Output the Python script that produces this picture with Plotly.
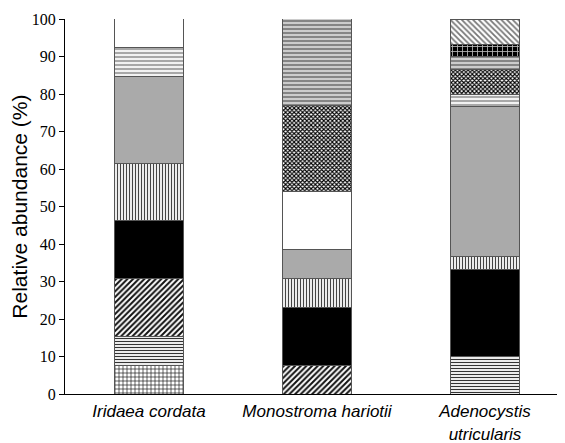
import plotly.graph_objects as go

species = ["Iridaea cordata", "Monostroma hariotii", "Adenocystis<br>utricularis"]

# segment heights (%) per group, bottom to top
grid_vals = [7.7, 0, 0]
hline_vals = [7.7, 0, 10.0]
diag_vals = [15.4, 7.7, 0]
black_vals = [15.4, 15.4, 23.3]
vline_vals = [15.4, 7.7, 3.3]
gray_vals = [23.1, 7.7, 40.0]
dotted_vals = [7.7, 0, 3.3]
white_vals = [7.7, 15.4, 0]
checker_vals = [0, 23.1, 6.7]
brick_vals = [0, 23.1, 3.3]
blackgrid_vals = [0, 0, 3.3]
scallop_vals = [0, 0, 6.7]

series = [
    (grid_vals, dict(shape="+", fgcolor="#111111", bgcolor="white", size=4, solidity=0.3)),
    (hline_vals, dict(shape="-", fgcolor="#333333", bgcolor="white", size=3, solidity=0.4)),
    (diag_vals, dict(shape="/", fgcolor="#111111", bgcolor="white", size=4, solidity=0.5)),
    (black_vals, dict(shape="", fgcolor="black", bgcolor="black")),
    (vline_vals, dict(shape="|", fgcolor="#444444", bgcolor="white", size=3, solidity=0.4)),
    (gray_vals, dict(shape="", fgcolor="#aaaaaa", bgcolor="#aaaaaa")),
    (dotted_vals, dict(shape="-", fgcolor="#888888", bgcolor="#f2f2f2", size=4, solidity=0.35)),
    (white_vals, dict(shape="", fgcolor="white", bgcolor="white")),
    (checker_vals, dict(shape="x", fgcolor="#000000", bgcolor="white", size=3, solidity=0.6)),
    (brick_vals, dict(shape="-", fgcolor="#555555", bgcolor="#cccccc", size=4, solidity=0.3)),
    (blackgrid_vals, dict(shape="+", fgcolor="#bbbbbb", bgcolor="black", size=5, solidity=0.3)),
    (scallop_vals, dict(shape="\\", fgcolor="#777777", bgcolor="white", size=4, solidity=0.45)),
]

fig = go.Figure()
for vals, pat in series:
    color = pat["bgcolor"]
    fig.add_trace(go.Bar(
        x=species, y=vals, width=0.41,
        marker=dict(color=color, line=dict(color="#555555", width=1),
                    pattern=dict(fillmode="replace", **pat)),
        showlegend=False,
    ))

fig.update_layout(
    barmode="stack",
    width=565, height=443,
    margin=dict(l=57, r=4, t=11, b=57),
    plot_bgcolor="white", paper_bgcolor="white",
    bargap=0.59,
    annotations=[dict(
        text="Relative abundance (%)", textangle=-90,
        xref="paper", yref="paper", x=-0.091, y=0.5,
        xanchor="center", yanchor="middle", showarrow=False,
        font=dict(family="Liberation Sans", size=21, color="black"),
    )],
)
fig.update_xaxes(
    showline=True, linecolor="black", linewidth=1, ticks="",
    tickfont=dict(family="Liberation Sans", size=17, color="black", style="italic"),
    range=[-0.5, 2.5], automargin=False, ticklabelstandoff=2,
)
fig.update_yaxes(
    range=[0, 100], dtick=10, showgrid=False, zeroline=False,
    showline=True, linecolor="black", linewidth=1, ticks="outside", ticklen=5,
    tickcolor="black", automargin=False,
    tickfont=dict(family="Times New Roman, Liberation Serif, serif", size=16, color="black"),
)
fig.write_html("out.html")
